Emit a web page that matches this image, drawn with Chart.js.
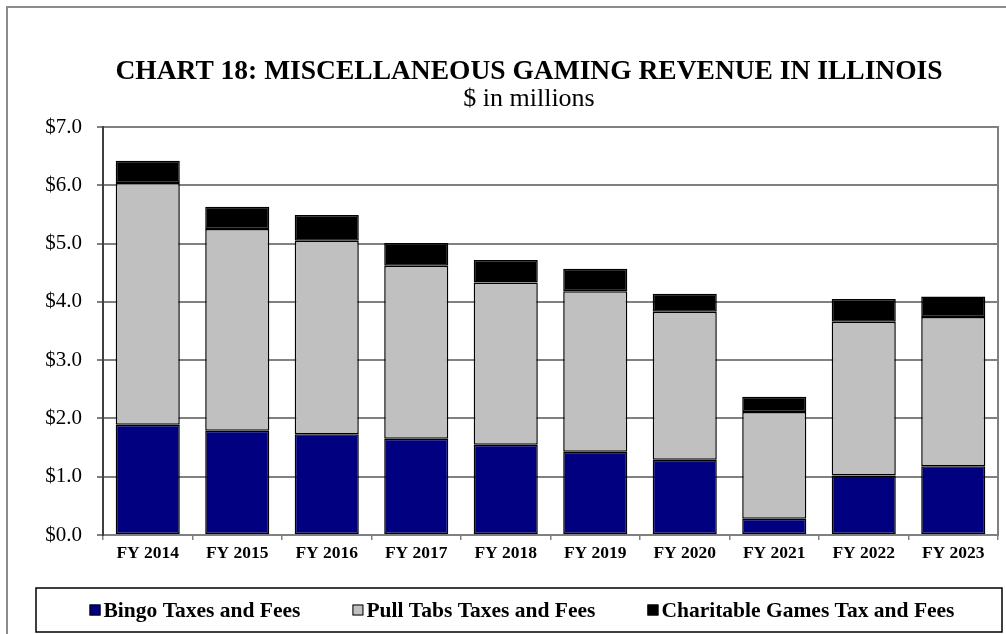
<!DOCTYPE html>
<html>
<head>
<meta charset="utf-8">
<script src="https://cdn.jsdelivr.net/npm/chart.js@4"></script>
<style>
    body { margin: 0; background: #fff; overflow: hidden; }
    #frame {
        position: absolute; left: 6px; top: 6px; width: 1100px; height: 700px;
        border-left: 2px solid #8c8c8c; border-top: 2px solid #8c8c8c;
    }
    #box { position: absolute; left: 8px; top: 8px; width: 1042px; height: 626px; }
</style>
</head>
<body>
<div id="frame"></div>
<div id="box"><canvas id="gamingChart"></canvas></div>
<script>
const years = ['FY 2014', 'FY 2015', 'FY 2016', 'FY 2017', 'FY 2018', 'FY 2019', 'FY 2020', 'FY 2021', 'FY 2022', 'FY 2023'];
const bingo = [1.89, 1.79, 1.73, 1.65, 1.55, 1.43, 1.29, 0.28, 1.02, 1.18];
const pullTabs = [4.15, 3.46, 3.32, 2.97, 2.78, 2.75, 2.54, 1.83, 2.64, 2.56];
const charitable = [0.38, 0.38, 0.44, 0.39, 0.39, 0.39, 0.31, 0.26, 0.39, 0.35];
const yTicks = [0, 1, 2, 3, 4, 5, 6, 7];

const serif = "'Liberation Serif', 'Times New Roman', serif";

// legend drawn inside a box like the original
const legendBox = {
    id: 'legendBox',
    afterDraw(chart) {
        const { ctx, chartArea } = chart;
        const x0 = chartArea.left - 67, x1 = chartArea.right + 4;
        const y0 = chart.height - 46, y1 = chart.height - 2;
        ctx.save();
        ctx.strokeStyle = '#000';
        ctx.lineWidth = 1.5;
        ctx.strokeRect(x0, y0, x1 - x0, y1 - y0);

        ctx.font = 'bold 21.5px ' + serif;
        ctx.textBaseline = 'middle';
        const box = 11, gap = 3, spacing = 52;
        const items = chart.data.datasets.map(d => ({
            text: d.label, color: d.backgroundColor,
            w: box + gap + ctx.measureText(d.label).width
        }));
        const total = items.reduce((s, it) => s + it.w, 0) + spacing * (items.length - 1);
        let x = (x0 + x1) / 2 + 3 - total / 2;
        const cy = (y0 + y1) / 2;
        items.forEach(it => {
            ctx.fillStyle = it.color;
            ctx.fillRect(x, cy - box / 2, box, box);
            ctx.lineWidth = 1;
            ctx.strokeStyle = '#000';
            ctx.strokeRect(x + 0.5, cy - box / 2 + 0.5, box - 1, box - 1);
            ctx.fillStyle = '#000';
            ctx.fillText(it.text, x + box + gap, cy + 1);
            x += it.w + spacing;
        });
        ctx.restore();
    }
};

const barStyle = { borderColor: '#000', borderWidth: 1.5, borderSkipped: false, categoryPercentage: 1, barPercentage: 0.716 };

new Chart(document.querySelector('#gamingChart'), {
    type: 'bar',
    data: {
        labels: years,
        datasets: [
            { label: 'Bingo Taxes and Fees', data: bingo, backgroundColor: '#000080', ...barStyle },
            { label: 'Pull Tabs Taxes and Fees', data: pullTabs, backgroundColor: '#C0C0C0', ...barStyle },
            { label: 'Charitable Games Tax and Fees', data: charitable, backgroundColor: '#000000', ...barStyle }
        ]
    },
    options: {
        responsive: true,
        maintainAspectRatio: false,
        animation: false,
        layout: { padding: { left: 0, right: 0, top: 0, bottom: 67 } },
        plugins: {
            legend: { display: false },
            tooltip: { enabled: false },
            title: {
                display: true,
                text: 'CHART 18: MISCELLANEOUS GAMING REVENUE IN ILLINOIS',
                color: '#000',
                font: { family: serif, size: 27.5, weight: 'bold', lineHeight: 1.2 },
                padding: { top: 47, bottom: 0 }
            },
            subtitle: {
                display: true,
                text: '$ in millions',
                color: '#000',
                font: { family: serif, size: 26, lineHeight: 1 },
                padding: { top: -2, bottom: 15 }
            }
        },
        scales: {
            x: {
                stacked: true,
                grid: { display: true, drawOnChartArea: false, offset: true, tickLength: 5, color: '#808080', lineWidth: 1.5 },
                border: { display: true, color: '#808080', width: 2 },
                ticks: { color: '#000', padding: 3, font: { family: serif, size: 17.5, weight: 'bold' } }
            },
            y: {
                stacked: true,
                min: 0,
                max: 7,
                afterFit: (scale) => { scale.width = 95; },
                afterBuildTicks: (scale) => { scale.ticks = yTicks.map(v => ({ value: v })); },
                grid: { color: '#808080', lineWidth: 2, tickLength: 6 },
                border: { display: true, color: '#404040', width: 2 },
                ticks: {
                    color: '#000',
                    padding: 15,
                    font: { family: serif, size: 21 },
                    callback: (v) => '$' + Number(v).toFixed(1)
                }
            },
            // empty right axis: keeps the blank margin on the right and draws the plot's right edge
            edge: {
                position: 'right',
                afterFit: (scale) => { scale.width = 52; },
                grid: { display: false },
                ticks: { display: false },
                border: { display: true, color: '#808080', width: 2 }
            }
        }
    },
    plugins: [legendBox]
});
</script>
</body>
</html>
